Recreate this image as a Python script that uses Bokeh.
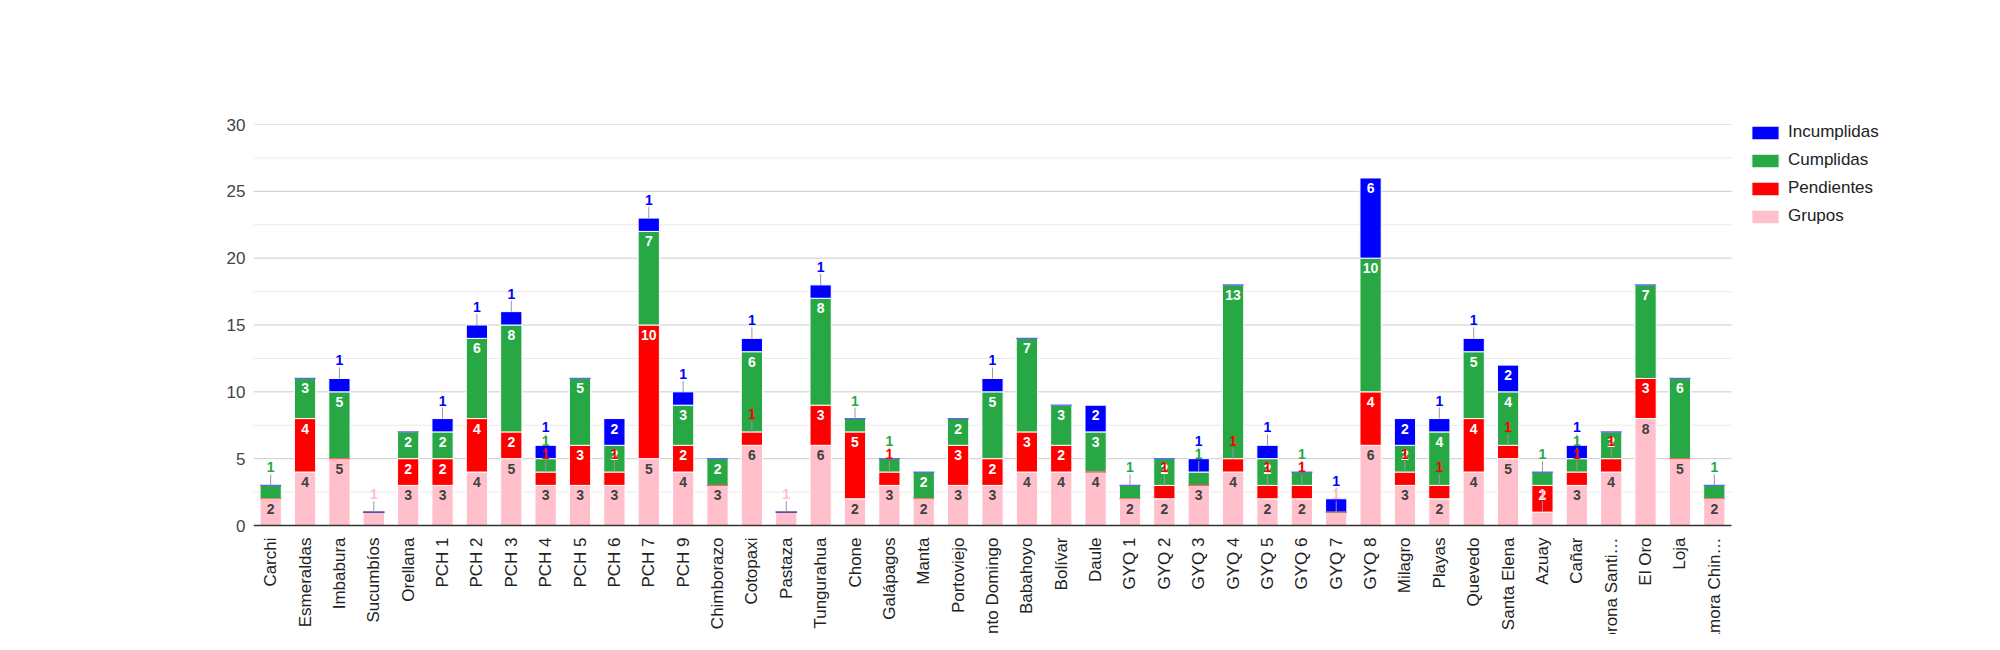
import math
from bokeh.plotting import figure
from bokeh.models import (ColumnDataSource, Range1d, FixedTicker, Legend, LegendItem)
from bokeh.core.properties import value
from bokeh.embed import file_html
from bokeh.resources import INLINE

categories = ["Carchi", "Esmeraldas", "Imbabura", "Sucumbíos", "Orellana", "PCH 1", "PCH 2",
              "PCH 3", "PCH 4", "PCH 5", "PCH 6", "PCH 7", "PCH 9", "Chimborazo", "Cotopaxi",
              "Pastaza", "Tungurahua", "Chone", "Galápagos", "Manta", "Portoviejo",
              "Santo Domingo", "Babahoyo", "Bolívar", "Daule", "GYQ 1", "GYQ 2", "GYQ 3",
              "GYQ 4", "GYQ 5", "GYQ 6", "GYQ 7", "GYQ 8", "Milagro", "Playas", "Quevedo",
              "Santa Elena", "Azuay", "Cañar", "Morona Santi…", "El Oro", "Loja", "Zamora Chin…"]
grupos      = [2, 4, 5, 1, 3, 3, 4, 5, 3, 3, 3, 5, 4, 3, 6, 1, 6, 2, 3, 2, 3, 3, 4, 4, 4,
               2, 2, 3, 4, 2, 2, 1, 6, 3, 2, 4, 5, 1, 3, 4, 8, 5, 2]
pendientes  = [0, 4, 0, 0, 2, 2, 4, 2, 1, 3, 1, 10, 2, 0, 1, 0, 3, 5, 1, 0, 3, 2, 3, 2, 0,
               0, 1, 0, 1, 1, 1, 0, 4, 1, 1, 4, 1, 2, 1, 1, 3, 0, 0]
cumplidas   = [1, 3, 5, 0, 2, 2, 6, 8, 1, 5, 2, 7, 3, 2, 6, 0, 8, 1, 1, 2, 2, 5, 7, 3, 3,
               1, 2, 1, 13, 2, 1, 0, 10, 2, 4, 5, 4, 1, 1, 2, 7, 6, 1]
incumplidas = [0, 0, 1, 0, 0, 1, 1, 1, 1, 0, 2, 1, 1, 0, 1, 0, 1, 0, 0, 0, 0, 1, 0, 0, 2,
               0, 0, 1, 0, 1, 0, 1, 6, 2, 1, 1, 2, 0, 1, 0, 0, 0, 0]
series_names = ["Grupos", "Pendientes", "Cumplidas", "Incumplidas"]
y_ticks = [0, 5, 10, 15, 20, 25, 30]
y_minor = [2.5, 7.5, 12.5, 17.5, 22.5, 27.5]
y_max = 30

W, H = 1984, 634
BL, BT = 253, 124
VALUE_PX = 401        # pixel height of the 0..30 value band
BARS_PX = 1478        # pixel width of the category band
frame_h = H - BT
frame_w = W - BL
ppu = VALUE_PX / y_max
y_low = -(frame_h - VALUE_PX) / ppu

FONT = "Liberation Sans"
colors = {"Grupos": "#ffc0cb", "Pendientes": "#ff0000", "Cumplidas": "#28a745", "Incumplidas": "#0000ff"}
inside_text = {"Grupos": "#404040", "Pendientes": "#ffffff", "Cumplidas": "#ffffff", "Incumplidas": "#ffffff"}

n = len(categories)
xs = list(range(n))
x_end = -0.5 + n * frame_w / BARS_PX

p = figure(width=W, height=H, x_range=Range1d(-0.5, x_end), y_range=Range1d(y_low, y_max),
           output_backend="svg", toolbar_location=None,
           min_border_left=BL, min_border_right=0, min_border_top=BT, min_border_bottom=0)
p.outline_line_color = None
p.background_fill_color = "white"
p.border_fill_color = "white"

p.xaxis.visible = False
p.xgrid.visible = False
p.ygrid.visible = False
p.yaxis.ticker = FixedTicker(ticks=y_ticks)
p.yaxis.axis_line_color = None
p.yaxis.major_tick_line_color = None
p.yaxis.minor_tick_line_color = None
p.yaxis.major_tick_out = 0
p.yaxis.major_label_standoff = 8
p.yaxis.major_label_text_font = FONT
p.yaxis.major_label_text_font_size = "17px"
p.yaxis.major_label_text_color = "#444444"

# gridlines limited to the category band
p.segment(x0=-0.5, x1=n - 0.5, y0=y_minor, y1=y_minor, line_color="#ebebeb", line_width=1)
p.segment(x0=-0.5, x1=n - 0.5, y0=y_ticks[1:], y1=y_ticks[1:], line_color="#cccccc", line_width=1)

data = {"Grupos": grupos, "Pendientes": pendientes, "Cumplidas": cumplidas, "Incumplidas": incumplidas}
base = [0] * n
bar_renderers = {}
zero_srcs = []
in_labels = []
out_labels = []
for name in series_names:
    vals = data[name]
    bx, bb, bt = [], [], []
    zx, zy = [], []
    for i, v in enumerate(vals):
        b0 = base[i]
        t0 = b0 + v
        if v > 0:
            bx.append(i); bb.append(b0); bt.append(t0)
            if v >= 2:
                in_labels.append((i, t0, str(v), inside_text[name]))
            else:
                out_labels.append((i, t0, str(v), colors[name]))
        else:
            zx.append(i); zy.append(b0)
        base[i] = t0
    src = ColumnDataSource(dict(x=bx, bottom=bb, top=bt))
    r = p.vbar(x="x", bottom="bottom", top="top", width=0.618, source=src,
               fill_color=colors[name], line_color="white", line_width=1)
    bar_renderers[name] = r
    zero_srcs.append((name, ColumnDataSource(dict(x=zx, y=zy))))

for name, zs in zero_srcs:
    p.vbar(x="x", bottom="y", top="y", width=0.618, source=zs,
           fill_alpha=0, line_color=colors[name], line_alpha=0.6, line_width=1.2)

# baseline
p.segment(x0=-0.5, x1=n - 0.5, y0=y_ticks[0], y1=y_ticks[0], line_color="#333333", line_width=1.3)

# stems for outside labels
stem_src = ColumnDataSource(dict(x=[o[0] for o in out_labels], y0=[o[1] for o in out_labels],
                                 y1=[o[1] + 11 / ppu for o in out_labels]))
p.segment(x0="x", y0="y0", x1="x", y1="y1", source=stem_src, line_color="#999999", line_width=1)

in_src = ColumnDataSource(dict(x=[o[0] for o in in_labels], y=[o[1] for o in in_labels],
                               t=[o[2] for o in in_labels], c=[o[3] for o in in_labels]))
p.text(x="x", y="y", text="t", source=in_src, text_color="c", text_font=value(FONT),
       text_font_size="14px", text_font_style="bold", text_align="center",
       text_baseline="middle", y_offset=10)

out_src = ColumnDataSource(dict(x=[o[0] for o in out_labels], y=[o[1] for o in out_labels],
                                t=[o[2] for o in out_labels], c=[o[3] for o in out_labels]))
p.text(x="x", y="y", text="t", source=out_src, text_color="c", text_font=value(FONT),
       text_font_size="14px", text_font_style="bold", text_align="center",
       text_baseline="middle", y_offset=-18)

# category labels (rotated), drawn under the baseline
cat_src = ColumnDataSource(dict(x=xs, y=[0] * n, t=categories))
p.text(x="x", y="y", text="t", source=cat_src, angle=math.pi / 2,
       text_align="right", text_baseline="middle", y_offset=12,
       text_font=value(FONT), text_font_size="17px", text_color="#222222")

LEG_DROP = 102
legend = Legend(items=[LegendItem(label=nm, renderers=[bar_renderers[nm]]) for nm in reversed(series_names)],
                location=(BARS_PX + 17, frame_h - LEG_DROP), glyph_width=34, glyph_height=17, label_height=17,
                spacing=8, label_standoff=6, padding=0, margin=0,
                label_text_font=FONT, label_text_font_size="17px", label_text_color="#222222",
                border_line_color=None, background_fill_alpha=0)
p.add_layout(legend)

open("out.html", "w").write(file_html(p, INLINE))
